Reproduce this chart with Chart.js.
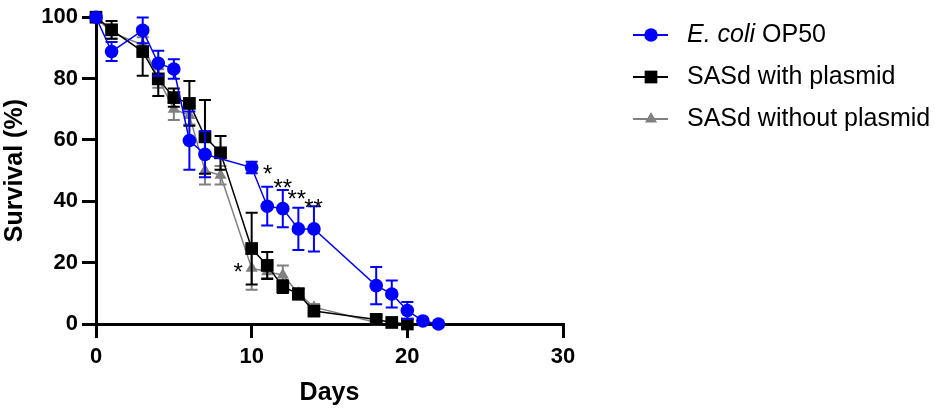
<!DOCTYPE html>
<html>
<head>
<meta charset="utf-8">
<script src="https://cdn.jsdelivr.net/npm/chart.js@4/dist/chart.umd.min.js"></script>
<style>
  html, body { margin: 0; padding: 0; background: #fff; }
  #wrap { width: 935px; height: 412px; position: relative; }
</style>
</head>
<body>
<div id="wrap"><canvas id="js-chart"></canvas></div>
<script>
const FONT = "'Liberation Sans', Arial, sans-serif";

const seriesNames = ["E. coli OP50", "SASd with plasmid", "SASd without plasmid"];
const italicPart = ["E. coli", "", ""];

const ecoliDays = [0, 1, 3, 4, 5, 6, 7, 10, 11, 12, 13, 14, 18, 19, 20, 21, 22];
const ecoliSurvival = [100, 88.8, 95.7, 85, 83.1, 59.8, 55.3, 51, 38.4, 37.6, 31, 31, 12.5, 9.8, 4.4, 1, 0];
const ecoliErr = [0, 3.1, 4.2, 4.1, 3.2, 9.5, 7.5, 1.9, 6.3, 6.1, 6.9, 7.4, 6.1, 4.4, 2.8, 0, 0];

const withDays = [0, 1, 3, 4, 5, 6, 7, 8, 10, 11, 12, 13, 14, 18, 19, 20];
const withSurvival = [100, 95.9, 88.8, 79.9, 73.8, 71.9, 61, 55.8, 24.6, 19.1, 12.2, 9.8, 4.2, 1.5, 0.5, 0];
const withErr = [0, 2.9, 7.9, 5.6, 3, 7.3, 12, 5.5, 11.7, 4.4, 2.1, 1.8, 1.5, 1, 0.5, 0];

const withoutDays = [0, 1, 3, 4, 5, 6, 7, 8, 10, 11, 12, 13, 14, 18];
const withoutSurvival = [100, 95, 91, 80, 70, 68, 50, 48.5, 18.2, 17, 16, 10, 5.5, 0.5];
const withoutErr = [0, 2, 2.5, 3, 3.5, 3, 4.5, 3, 7, 2, 3.1, 1.5, 1, 0.5];

// significance marks
const starText = ["*", "**", "**", "**", "*"];
const starDays = [11.03, 12.0, 12.9, 13.98, 9.14];
const starValues = [48.6, 44, 40.3, 37.5, 16.6];

const xTicks = [0, 10, 20, 30];
const yTicks = [0, 20, 40, 60, 80, 100];

function toPoints(days, vals) {
  return days.map((d, i) => ({ x: d, y: vals[i] }));
}

const errors = [ecoliErr, withErr, withoutErr];

const errorBars = {
  id: "errorBars",
  beforeDatasetDraw(chart, args) {
    const ctx = chart.ctx;
    const y = chart.scales.y;
    const ds = chart.data.datasets[args.index];
    const errs = errors[args.index];
    const meta = args.meta;
    ctx.save();
    ctx.strokeStyle = ds.borderColor;
    ctx.lineWidth = 2;
    meta.data.forEach((pt, i) => {
      const e = errs[i];
      if (!e) return;
      const v = ds.data[i].y;
      const top = y.getPixelForValue(v + e);
      const bot = y.getPixelForValue(v - e);
      ctx.beginPath();
      ctx.moveTo(pt.x, top);
      ctx.lineTo(pt.x, bot);
      ctx.moveTo(pt.x - 6, top);
      ctx.lineTo(pt.x + 6, top);
      ctx.moveTo(pt.x - 6, bot);
      ctx.lineTo(pt.x + 6, bot);
      ctx.stroke();
    });
    ctx.restore();
  },
};

const stars = {
  id: "stars",
  afterDatasetsDraw(chart) {
    const ctx = chart.ctx;
    ctx.save();
    ctx.fillStyle = "#000";
    ctx.font = "24px " + FONT;
    ctx.textAlign = "center";
    ctx.textBaseline = "middle";
    starText.forEach((t, i) => {
      ctx.fillText(t, chart.scales.x.getPixelForValue(starDays[i]), chart.scales.y.getPixelForValue(starValues[i]));
    });
    ctx.restore();
  },
};

const sideLegend = {
  id: "sideLegend",
  afterDraw(chart) {
    const ctx = chart.ctx;
    ctx.save();
    chart.data.datasets.forEach((ds, i) => {
      const cy = 35 + i * 42;
      ctx.strokeStyle = ds.borderColor;
      ctx.fillStyle = ds.backgroundColor;
      ctx.lineWidth = 2;
      ctx.beginPath();
      ctx.moveTo(633, cy);
      ctx.lineTo(668, cy);
      ctx.stroke();
      Chart.helpers.drawPoint(ctx, { pointStyle: ds.pointStyle, radius: ds.pointRadius, rotation: 0, borderWidth: 0 }, 651, cy);
      ctx.fillStyle = "#000";
      ctx.textBaseline = "middle";
      let x = 687;
      const it = italicPart[i];
      let rest = seriesNames[i];
      if (it) {
        ctx.font = "italic 25px " + FONT;
        ctx.fillText(it, x, cy);
        x += ctx.measureText(it).width;
        rest = rest.slice(it.length);
      }
      ctx.font = "25px " + FONT;
      ctx.fillText(rest, x, cy);
    });
    ctx.restore();
  },
};

function drawChart() {
  const context = document.getElementById("js-chart").getContext("2d");

  new Chart(context, {
    type: "line",
    data: {
      datasets: [
        {
          label: seriesNames[0],
          data: toPoints(ecoliDays, ecoliSurvival),
          borderColor: "#0000ff",
          backgroundColor: "#0000ff",
          borderWidth: 1.5,
          pointStyle: "circle",
          pointRadius: 6.8,
          pointBorderWidth: 0,
          clip: false,
        },
        {
          label: seriesNames[1],
          data: toPoints(withDays, withSurvival),
          borderColor: "#000000",
          backgroundColor: "#000000",
          borderWidth: 1.5,
          pointStyle: "rect",
          pointRadius: 9,
          pointBorderWidth: 0,
          clip: false,
        },
        {
          label: seriesNames[2],
          data: toPoints(withoutDays, withoutSurvival),
          borderColor: "#808080",
          backgroundColor: "#808080",
          borderWidth: 1.5,
          pointStyle: "triangle",
          pointRadius: 7,
          pointBorderWidth: 0,
          clip: false,
        },
      ],
    },
    options: {
      responsive: true,
      maintainAspectRatio: false,
      animation: false,
      layout: { padding: { left: 0, top: 12, right: 372, bottom: 0 } },
      plugins: { legend: { display: false }, tooltip: { enabled: false } },
      scales: {
        x: {
          type: "linear",
          min: 0,
          max: 30,
          afterBuildTicks: (s) => { s.ticks = xTicks.map((v) => ({ value: v })); },
          afterFit: (s) => { s.height = 88; },
          grid: { display: true, drawOnChartArea: false, drawTicks: true, tickLength: 14, color: "#000", lineWidth: 3 },
          border: { display: true, color: "#000", width: 3 },
          ticks: { color: "#000", padding: 6, font: { family: FONT, size: 22, weight: "bold" } },
          title: { display: true, text: "Days", color: "#000", padding: { top: 0, bottom: 4 }, font: { family: FONT, size: 25, weight: "bold" } },
        },
        y: {
          min: 0,
          max: 100,
          afterBuildTicks: (s) => { s.ticks = yTicks.map((v) => ({ value: v })); },
          afterFit: (s) => { s.width = 96; },
          grid: { display: true, drawOnChartArea: false, drawTicks: true, tickLength: 14, color: "#000", lineWidth: 3 },
          border: { display: true, color: "#000", width: 3 },
          ticks: { color: "#000", padding: 4, font: { family: FONT, size: 22, weight: "bold" } },
          title: { display: true, text: "Survival (%)", color: "#000", padding: 0, font: { family: FONT, size: 25, weight: "bold" } },
        },
      },
    },
    plugins: [errorBars, stars, sideLegend],
  });
}

drawChart();
</script>
</body>
</html>
